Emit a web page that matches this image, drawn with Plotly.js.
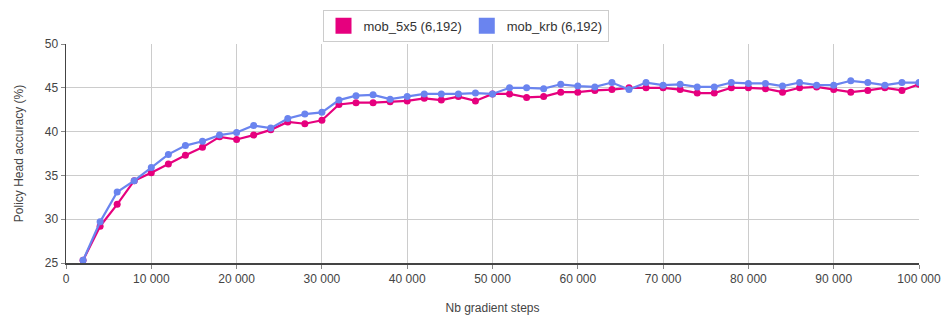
<!DOCTYPE html>
<html>
<head>
<meta charset="utf-8">
<script src="https://cdn.plot.ly/plotly-3.0.1.min.js"></script>
<style>html,body{margin:0;padding:0;background:#fff;}#chart{width:950px;height:323px;}</style>
</head>
<body>
<div id="chart"></div>
<script>
const steps = [2000,4000,6000,8000,10000,12000,14000,16000,18000,20000,
  22000,24000,26000,28000,30000,32000,34000,36000,38000,40000,
  42000,44000,46000,48000,50000,52000,54000,56000,58000,60000,
  62000,64000,66000,68000,70000,72000,74000,76000,78000,80000,
  82000,84000,86000,88000,90000,92000,94000,96000,98000,100000];
const mob5x5 = [25.3,29.2,31.7,34.4,35.3,36.3,37.3,38.2,39.4,39.1,
  39.6,40.2,41.1,40.9,41.3,43.1,43.3,43.3,43.4,43.5,
  43.8,43.6,44.0,43.5,44.3,44.3,43.9,44.0,44.5,44.5,
  44.7,44.8,45.0,45.0,45.0,44.8,44.4,44.4,45.0,45.0,
  44.9,44.5,45.0,45.1,44.8,44.5,44.7,45.0,44.7,45.4];
const mobKrb = [25.3,29.7,33.1,34.4,35.9,37.4,38.4,38.9,39.6,39.9,
  40.7,40.4,41.5,42.0,42.2,43.6,44.1,44.2,43.7,44.0,
  44.3,44.3,44.3,44.4,44.3,45.0,45.0,44.9,45.4,45.2,
  45.1,45.6,44.8,45.6,45.3,45.4,45.1,45.1,45.6,45.5,
  45.5,45.2,45.6,45.3,45.3,45.8,45.6,45.3,45.6,45.6];
const names = ["mob_5x5 (6,192)", "mob_krb (6,192)"];
const colors = ["#e6007e", "#6a84ef"];
const xTicks = [0,10000,20000,30000,40000,50000,60000,70000,80000,90000,100000];
const yTicks = [25,30,35,40,45,50];

const series = [mob5x5, mobKrb];
const traces = [];
series.forEach((s, i) => {
  traces.push({
    x: steps, y: s, type: "scatter", mode: "lines+markers", name: names[i],
    showlegend: false,
    line: {color: colors[i], width: 2.2},
    marker: {color: colors[i], size: 7}
  });
});
series.forEach((s, i) => {
  traces.push({
    x: [null], y: [null], type: "scatter", mode: "markers", name: names[i],
    marker: {color: colors[i], size: 17, symbol: "square"}
  });
});

const layout = {
  width: 950, height: 323,
  margin: {l: 66, r: 31, t: 44, b: 60},
  paper_bgcolor: "#fff", plot_bgcolor: "#fff",
  font: {family: "Liberation Sans, Arial, sans-serif", size: 12, color: "#444"},
  separators: ". ",
  showlegend: true,
  legend: {
    orientation: "h", xref: "container", yref: "container",
    x: 0.49, xanchor: "center", y: 0.97, yanchor: "top",
    bordercolor: "#ccc", borderwidth: 1, bgcolor: "#fff",
    font: {size: 13, color: "#333"}, itemwidth: 20
  },
  xaxis: {
    range: [0, 100000], tickvals: xTicks, tickformat: ",d",
    showgrid: true, gridcolor: "#ccc", gridwidth: 1,
    showline: true, linecolor: "#444", linewidth: 1.5,
    ticks: "outside", ticklen: 4, tickcolor: "#888",
    zeroline: false,
    title: {text: "Nb gradient steps", font: {size: 12, color: "#444"}, standoff: 18}
  },
  yaxis: {
    range: [25, 50], tickvals: yTicks,
    showgrid: true, gridcolor: "#ccc", gridwidth: 1,
    showline: true, linecolor: "#444", linewidth: 1.5,
    ticks: "outside", ticklen: 4, tickcolor: "#888",
    zeroline: false,
    title: {text: "Policy Head accuracy (%)", font: {size: 12, color: "#444"}, standoff: 18}
  }
};
Plotly.newPlot("chart", traces, layout, {displayModeBar: false, staticPlot: true});
</script>
</body>
</html>
